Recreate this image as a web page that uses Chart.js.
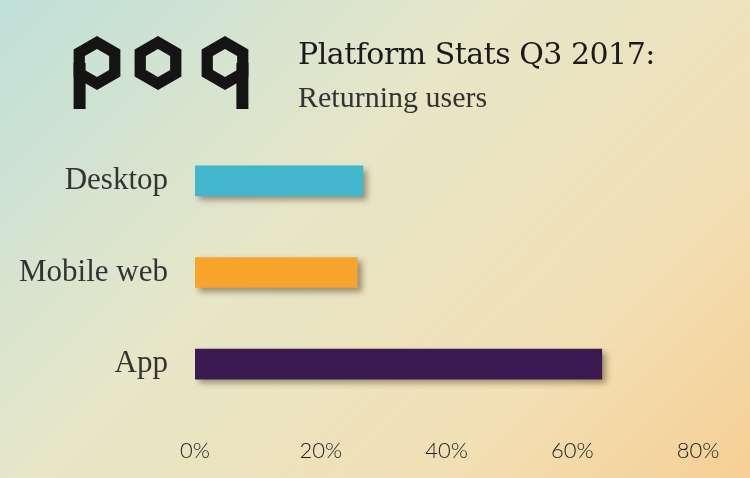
<!DOCTYPE html>
<html><head><meta charset="utf-8">
<script src="https://cdn.jsdelivr.net/npm/chart.js@4"></script>
<style>
html,body{margin:0;padding:0;width:750px;height:478px;overflow:hidden}
body{background:linear-gradient(135deg,#bfe0da 0%,#e6e6c8 40%,#f2dfb4 75%,#f6cf94 100%)}
#wrap{position:absolute;left:0;top:0;width:750px;height:478px}
.t1{position:absolute;left:298px;top:36px;font:30px "DejaVu Serif",serif;color:#1a1a1a;letter-spacing:-0.5px}
.t2{position:absolute;left:298px;top:80px;font:300 30px "Liberation Serif",serif;color:#333}
</style></head><body>
<div id="wrap"><canvas id="c" width="750" height="478"></canvas></div>
<div class="t1">Platform Stats Q3 2017:</div>
<div class="t2">Returning users</div>
<script>
const categories = ['Desktop', 'Mobile web', 'App'];
const returningUsers = [26.7, 25.8, 64.7];
const barColors = ['#42b6cc', '#f7a42c', '#3a1a50'];
const tickValues = [0, 20, 40, 60, 80];

// hexagon "poq" logo, plus drop shadow on the bars
const decor = {
  id: 'decor',
  beforeDraw(chart) {
    const ctx = chart.ctx;
    ctx.save();
    ctx.fillStyle = '#141414';
    const hex = (cx, cy, r) => {
      ctx.beginPath();
      for (let i = 0; i < 6; i++) {
        const a = Math.PI / 6 + i * Math.PI / 3;
        ctx.lineTo(cx + r * Math.cos(a), cy + r * Math.sin(a));
      }
      ctx.closePath();
    };
    const glyph = (cx, stem) => {
      ctx.beginPath();
      hex(cx, 63, 27);
      ctx.fill();
      ctx.globalCompositeOperation = 'destination-out';
      hex(cx, 63, 14);
      ctx.fill();
      ctx.globalCompositeOperation = 'source-over';
      if (stem) {
        const x = stem < 0 ? cx - 23.4 : cx + 23.4 - 12;
        ctx.fillRect(x, 63, 12, 46);
      }
    };
    glyph(97, -1);
    glyph(158, 0);
    glyph(225, 1);
    ctx.restore();
  },
  beforeDatasetDraw(chart) {
    const ctx = chart.ctx;
    ctx.save();
    ctx.shadowColor = 'rgba(60,40,20,0.45)';
    ctx.shadowBlur = 6;
    ctx.shadowOffsetX = 4;
    ctx.shadowOffsetY = 4;
  },
  afterDatasetDraw(chart) { chart.ctx.restore(); }
};

new Chart(document.getElementById('c'), {
  type: 'bar',
  data: {
    labels: categories,
    datasets: [{ data: returningUsers, backgroundColor: barColors, barThickness: 30 }]
  },
  options: {
    indexAxis: 'y',
    responsive: false,
    animation: false,
    layout: { padding: { top: 135, right: 52, bottom: 8, left: 0 } },
    plugins: { legend: { display: false }, tooltip: { enabled: false } },
    scales: {
      x: {
        min: 0, max: 80,
        afterBuildTicks: s => { s.ticks = tickValues.map(v => ({ value: v })); },
        grid: { display: false },
        border: { display: false },
        ticks: { color: '#222', padding: 20, font: { family: 'Lato', size: 22, weight: 300 }, callback: v => v + '%' },
        afterFit: s => { s.height = 60; }
      },
      y: {
        grid: { display: false },
        border: { display: false },
        ticks: { color: '#333', padding: 19, font: { family: 'Liberation Serif', size: 31 } },
        afterFit: s => { s.width = 195; }
      }
    }
  },
  plugins: [decor]
});
</script>
</body></html>
